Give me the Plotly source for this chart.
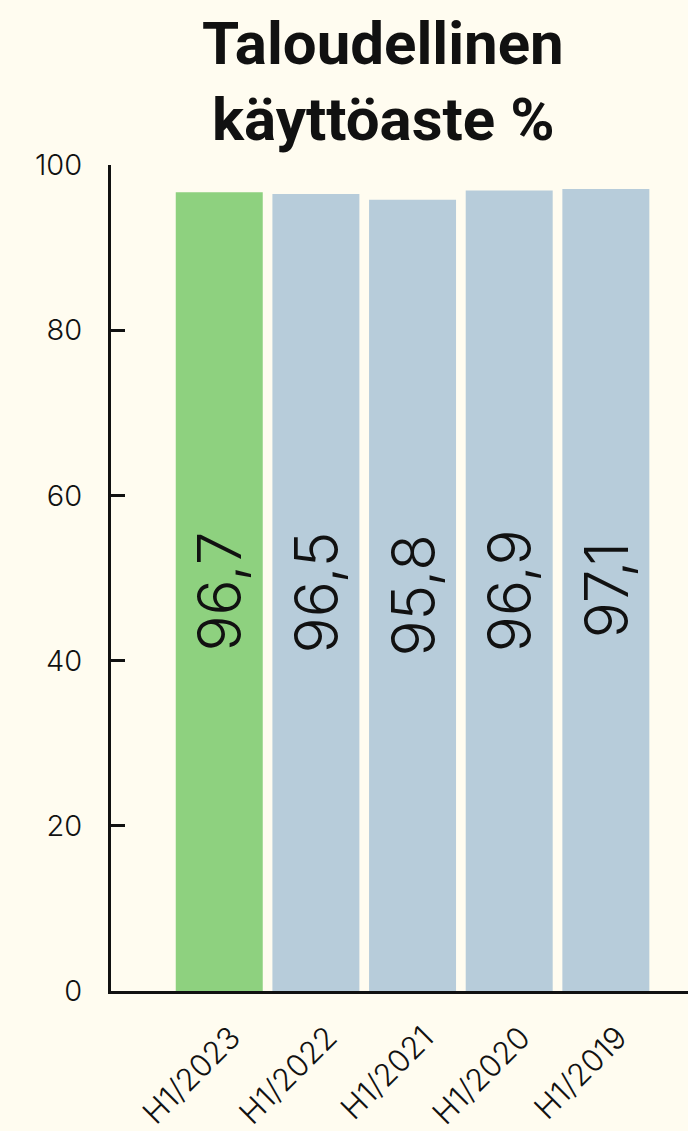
import plotly.graph_objects as go

# Financial occupancy rate, first half of each year
periods = ["H1/2023", "H1/2022", "H1/2021", "H1/2020", "H1/2019"]
occupancy = [96.7, 96.5, 95.8, 96.9, 97.1]
bar_colors = ["#8ED17F", "#B7CCDA", "#B7CCDA", "#B7CCDA", "#B7CCDA"]
y_ticks = [0, 20, 40, 60, 80, 100]
title_lines = ["Taloudellinen", "käyttöaste %"]

BG = "#FFFCF0"
INK = "#111111"

PLOT_TOP = 165
PLOT_BOTTOM = 140
PLOT_H = 1131 - PLOT_TOP - PLOT_BOTTOM

fig = go.Figure(
    go.Bar(
        x=periods,
        y=occupancy,
        marker=dict(color=bar_colors, line=dict(width=0)),
        texttemplate="%{y:.1f}",
        textposition="inside",
        textangle=-90,
        insidetextanchor="middle",
        textfont=dict(family="Inter", size=60, color=INK, weight=300),
        hoverinfo="skip",
    )
)

fig.update_layout(
    width=688,
    height=1131,
    paper_bgcolor=BG,
    plot_bgcolor=BG,
    separators=", ",
    margin=dict(l=111, r=0, t=PLOT_TOP, b=PLOT_BOTTOM, autoexpand=False),
    bargap=0.1,
    showlegend=False,
    uniformtext=dict(minsize=60, mode="show"),
)

fig.update_xaxes(
    type="category",
    range=[-1.12, 4.85],
    showgrid=False,
    showline=True,
    linecolor=INK,
    linewidth=3,
    ticks="",
    tickangle=-45,
    ticklabelstandoff=13,
    ticklabelshift=12,
    tickfont=dict(family="Inter", size=31, color=INK, weight=300),
    automargin=False,
    fixedrange=True,
)

fig.update_yaxes(
    range=[0, 100],
    tickvals=y_ticks,
    showgrid=False,
    zeroline=False,
    showline=True,
    linecolor=INK,
    linewidth=3,
    ticks="inside",
    ticklen=14,
    tickwidth=2.5,
    tickcolor=INK,
    ticklabelstandoff=20,
    tickfont=dict(family="Inter", size=29, color=INK, weight=300),
    automargin=False,
    fixedrange=True,
)

# Two-line bold heading above the plot
for i, line in enumerate(title_lines):
    fig.add_annotation(
        text=f"<b>{line}</b>",
        xref="paper",
        yref="paper",
        x=0.472,
        y=1.0 + (121 - i * 75) / PLOT_H,
        xanchor="center",
        yanchor="middle",
        showarrow=False,
        font=dict(family="Roboto", size=60, color=INK),
    )

fig.write_html("out.html")
